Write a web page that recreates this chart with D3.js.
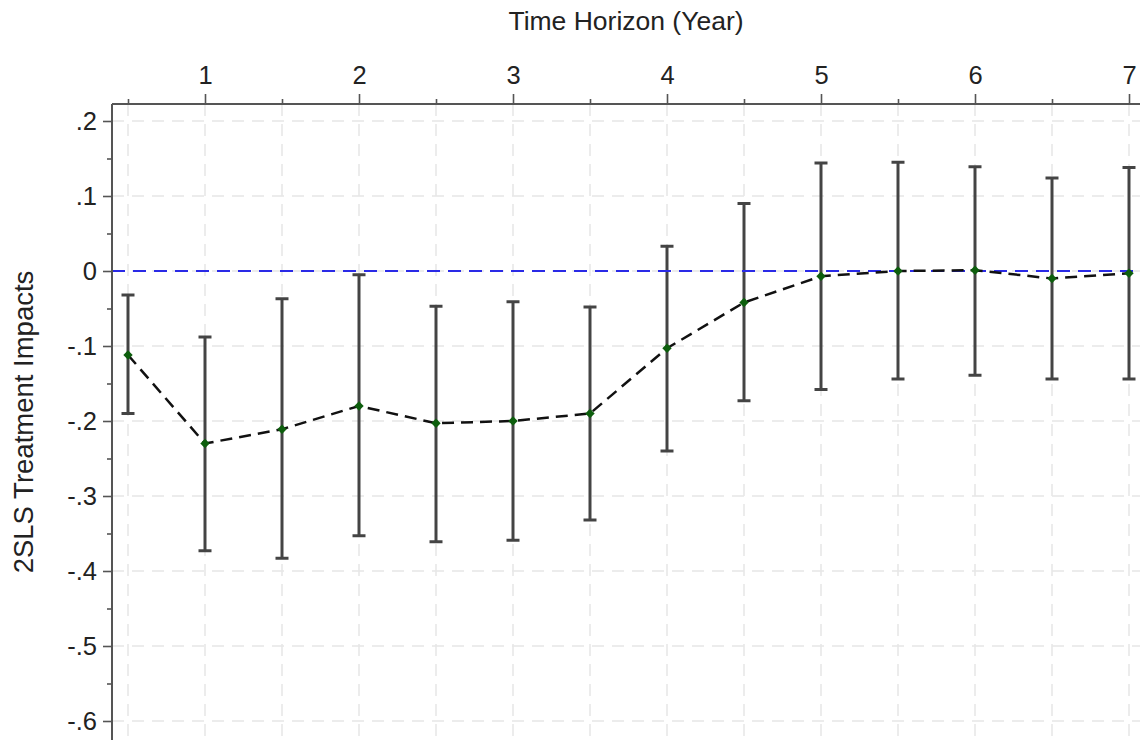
<!DOCTYPE html>
<html lang="en">
<head>
    <meta charset="UTF-8">
    <title>2SLS Treatment Impacts</title>
    <script src="https://cdn.jsdelivr.net/npm/d3@7"></script>
    <style>
        html, body { margin: 0; padding: 0; background: #fff; }
        svg text { font-family: "Liberation Sans", Arial, Helvetica, sans-serif; fill: #222; }
    </style>
</head>
<body>
<div id="out01"></div>
<script>

// horizon in years, point estimate and 95% CI bounds
const horizon = [0.5, 1, 1.5, 2, 2.5, 3, 3.5, 4, 4.5, 5, 5.5, 6, 6.5, 7];
const estimate = [-0.112, -0.230, -0.211, -0.180, -0.203, -0.200, -0.190, -0.103, -0.042, -0.007, 0.000, 0.001, -0.010, -0.003];
const ciUpper = [-0.032, -0.088, -0.037, -0.005, -0.047, -0.041, -0.048, 0.033, 0.090, 0.144, 0.145, 0.139, 0.124, 0.138];
const ciLower = [-0.190, -0.373, -0.383, -0.353, -0.361, -0.359, -0.332, -0.240, -0.173, -0.158, -0.144, -0.139, -0.144, -0.144];

const xMajorTicks = [1, 2, 3, 4, 5, 6, 7];
const xMinorTicks = [0.5, 1.5, 2.5, 3.5, 4.5, 5.5, 6.5];
const yMajorTicks = [0.2, 0.1, 0, -0.1, -0.2, -0.3, -0.4, -0.5, -0.6];
const yTickLabels = [".2", ".1", "0", "-.1", "-.2", "-.3", "-.4", "-.5", "-.6"];
const yMinorTicks = [0.15, 0.05, -0.05, -0.15, -0.25, -0.35, -0.45, -0.55];

const width = 1140, height = 740;
const plotLeft = 112, plotTop = 104, plotRight = 1142, plotBottom = 742;

const x = d3.scaleLinear().domain([1, 7]).range([205, 1129]);
const y = d3.scaleLinear().domain([0.2, -0.6]).range([121, 721]);

const svg = d3.select("#out01").append("svg")
    .attr("width", width)
    .attr("height", height);

// grid
const grid = svg.append("g").attr("stroke", "#e6e6e6").attr("stroke-width", 1.5)
    .attr("stroke-dasharray", "12,8");
grid.selectAll(".vg").data(horizon).join("line")
    .attr("x1", d => x(d)).attr("x2", d => x(d))
    .attr("y1", plotTop).attr("y2", plotBottom);
grid.selectAll(".hg").data(yMajorTicks).join("line")
    .attr("x1", plotLeft).attr("x2", plotRight)
    .attr("y1", d => y(d)).attr("y2", d => y(d));

// error bars
const bars = svg.append("g").attr("stroke", "#444").attr("stroke-width", 3);
horizon.forEach((h, i) => {
    const cx = x(h);
    bars.append("line").attr("x1", cx).attr("x2", cx)
        .attr("y1", y(ciUpper[i])).attr("y2", y(ciLower[i]));
    bars.append("line").attr("x1", cx - 6.5).attr("x2", cx + 6.5)
        .attr("y1", y(ciUpper[i])).attr("y2", y(ciUpper[i]));
    bars.append("line").attr("x1", cx - 6.5).attr("x2", cx + 6.5)
        .attr("y1", y(ciLower[i])).attr("y2", y(ciLower[i]));
});

// zero reference line
svg.append("line")
    .attr("x1", plotLeft).attr("x2", plotRight)
    .attr("y1", y(0)).attr("y2", y(0))
    .attr("stroke", "#2a2ae6").attr("stroke-width", 2.2)
    .attr("stroke-dasharray", "13,8");

// estimates
const line = d3.line().x((d, i) => x(horizon[i])).y(d => y(d));
svg.append("path")
    .datum(estimate)
    .attr("d", line)
    .attr("fill", "none")
    .attr("stroke", "#111")
    .attr("stroke-width", 2.5)
    .attr("stroke-dasharray", "12,7");

svg.append("g").selectAll("path").data(estimate).join("path")
    .attr("d", d3.symbol(d3.symbolDiamond2, 56))
    .attr("transform", (d, i) => `translate(${x(horizon[i])},${y(d)})`)
    .attr("fill", "#0d5e0d");

// axes
const axisColor = "#555";
const topAxis = svg.append("g").attr("transform", `translate(0,${plotTop})`);
topAxis.append("line").attr("x1", plotLeft).attr("x2", plotRight)
    .attr("stroke", axisColor).attr("stroke-width", 2);
topAxis.call(g => g.append("g")
    .call(d3.axisTop(x).tickValues(xMajorTicks).tickSize(10).tickSizeOuter(0).tickPadding(10).tickFormat(d3.format("d")))
    .call(a => a.select(".domain").remove()));
topAxis.call(g => g.append("g")
    .call(d3.axisTop(x).tickValues(xMinorTicks).tickSize(5).tickFormat(""))
    .call(a => a.select(".domain").remove()));

const leftAxis = svg.append("g").attr("transform", `translate(${plotLeft},0)`);
leftAxis.append("line").attr("y1", plotTop).attr("y2", plotBottom)
    .attr("stroke", axisColor).attr("stroke-width", 2);
leftAxis.call(g => g.append("g")
    .call(d3.axisLeft(y).tickValues(yMajorTicks).tickSize(9).tickPadding(6)
        .tickFormat((d, i) => yTickLabels[i]))
    .call(a => a.select(".domain").remove()));
leftAxis.call(g => g.append("g")
    .call(d3.axisLeft(y).tickValues(yMinorTicks).tickSize(5).tickFormat(""))
    .call(a => a.select(".domain").remove()));

svg.selectAll(".tick line").attr("stroke", axisColor).attr("stroke-width", 1.6);
svg.selectAll(".tick text").attr("font-size", 25.5)
    .attr("font-family", "'Liberation Sans', Arial, sans-serif").attr("fill", "#222");

// titles
svg.append("text")
    .attr("x", 626).attr("y", 30)
    .attr("text-anchor", "middle")
    .attr("font-size", 26.5)
    .text("Time Horizon (Year)");

svg.append("text")
    .attr("transform", "translate(33,422) rotate(-90)")
    .attr("text-anchor", "middle")
    .attr("font-size", 27.5)
    .text("2SLS Treatment Impacts");

</script>
</body>
</html>
